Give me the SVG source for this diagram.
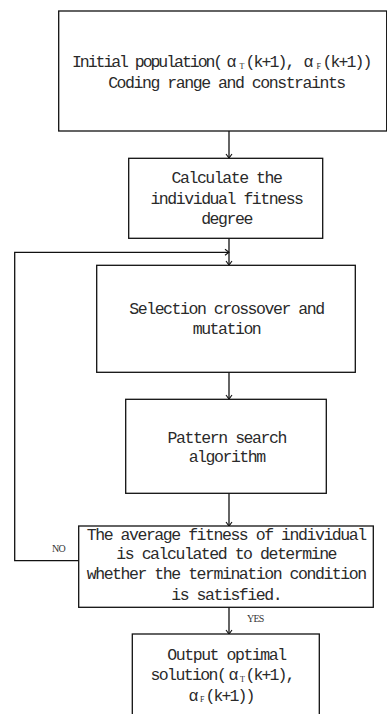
<svg xmlns="http://www.w3.org/2000/svg" width="387" height="714" viewBox="0 0 387 714">
<style>
.box{fill:#fff;stroke:#111;stroke-width:1.3}
.t{font-family:"Liberation Mono","DejaVu Sans Mono",monospace;font-size:16.5px;letter-spacing:-1.45px;fill:#2a2a2a;text-anchor:middle}
.s{font-family:"Liberation Mono","DejaVu Sans Mono",monospace;font-size:16.5px;letter-spacing:-1.9px;fill:#2a2a2a}
.sub{font-family:"Liberation Serif","DejaVu Serif",serif;font-size:8px;fill:#2a2a2a}
.lbl{font-family:"Liberation Serif","DejaVu Serif",serif;font-size:10px;letter-spacing:-0.8px;fill:#333}
.c{fill:none;stroke:#111;stroke-width:1.3}
</style>
<defs>
<marker id="ah" markerUnits="userSpaceOnUse" markerWidth="10" markerHeight="10" refX="5" refY="5" orient="auto">
<path d="M1,2 L5,5 L1,8" fill="none" stroke="#111" stroke-width="1.1"/>
</marker>
</defs>
<rect width="387" height="714" fill="#fff"/>
<g id="connectors">
<line class="c" x1="229" y1="131" x2="229" y2="158" marker-end="url(#ah)"/>
<line class="c" x1="229" y1="238" x2="229" y2="265" marker-end="url(#ah)"/>
<polyline class="c" points="78.7,560.7 14.7,560.7 14.7,252.3 229,252.3" marker-end="url(#ah)"/>
<line class="c" x1="229" y1="372" x2="229" y2="399" marker-end="url(#ah)"/>
<line class="c" x1="229" y1="493" x2="229" y2="526" marker-end="url(#ah)"/>
<line class="c" x1="229" y1="607" x2="229" y2="634" marker-end="url(#ah)"/>
<text class="lbl" x="52" y="552">NO</text>
<text class="lbl" x="247" y="622">YES</text>
</g>
<g id="n1">
<rect class="box" x="58.7" y="11" width="328" height="120"/>
<text class="s" x="72" y="66.7" style="letter-spacing:-2.05px">Initial population(</text>
<text class="s" x="226.5" y="66.7" style="letter-spacing:0">α</text>
<text class="sub" x="239.5" y="68.5">T</text>
<text class="s" x="245.5" y="66.7">(k+1),</text>
<text class="s" x="303.5" y="66.7" style="letter-spacing:0">α</text>
<text class="sub" x="316.5" y="68.5">F</text>
<text class="s" x="322.5" y="66.7">(k+1))</text>
<text class="t" x="226.5" y="87.5">Coding range and constraints</text>
</g>
<g id="n2">
<rect class="box" x="128.7" y="158.3" width="194" height="80"/>
<text class="t" x="226.5" y="183">Calculate the</text>
<text class="t" x="226.5" y="204">individual fitness</text>
<text class="t" x="226.5" y="224">degree</text>
</g>
<g id="n3">
<rect class="box" x="96.7" y="265.3" width="258.6" height="107"/>
<text class="t" x="226.5" y="314">Selection crossover and</text>
<text class="t" x="226.5" y="334">mutation</text>
</g>
<g id="n4">
<rect class="box" x="125.7" y="399.3" width="200.6" height="94"/>
<text class="t" x="226.7" y="442.5">Pattern search</text>
<text class="t" x="226.7" y="461.5">algorithm</text>
</g>
<g id="n5">
<rect class="box" x="78.7" y="526" width="294.6" height="81.3"/>
<text class="t" x="226.2" y="539.5">The average fitness of individual</text>
<text class="t" x="226.2" y="559">is calculated to determine</text>
<text class="t" x="226.2" y="579">whether the termination condition</text>
<text class="t" x="226.2" y="599.5">is satisfied.</text>
</g>
<g id="n6">
<rect class="box" x="132.3" y="634" width="187" height="90"/>
<text class="t" x="226.5" y="660">Output optimal</text>
<text class="s" x="150.5" y="680" style="letter-spacing:-1.6px">solution(</text>
<text class="s" x="228.5" y="680" style="letter-spacing:0">α</text>
<text class="sub" x="240" y="681.8">T</text>
<text class="s" x="245.5" y="680">(k+1),</text>
<text class="s" x="188.5" y="700.5" style="letter-spacing:0">α</text>
<text class="sub" x="200" y="702.3">F</text>
<text class="s" x="205.5" y="700.5">(k+1))</text>
</g>
</svg>
